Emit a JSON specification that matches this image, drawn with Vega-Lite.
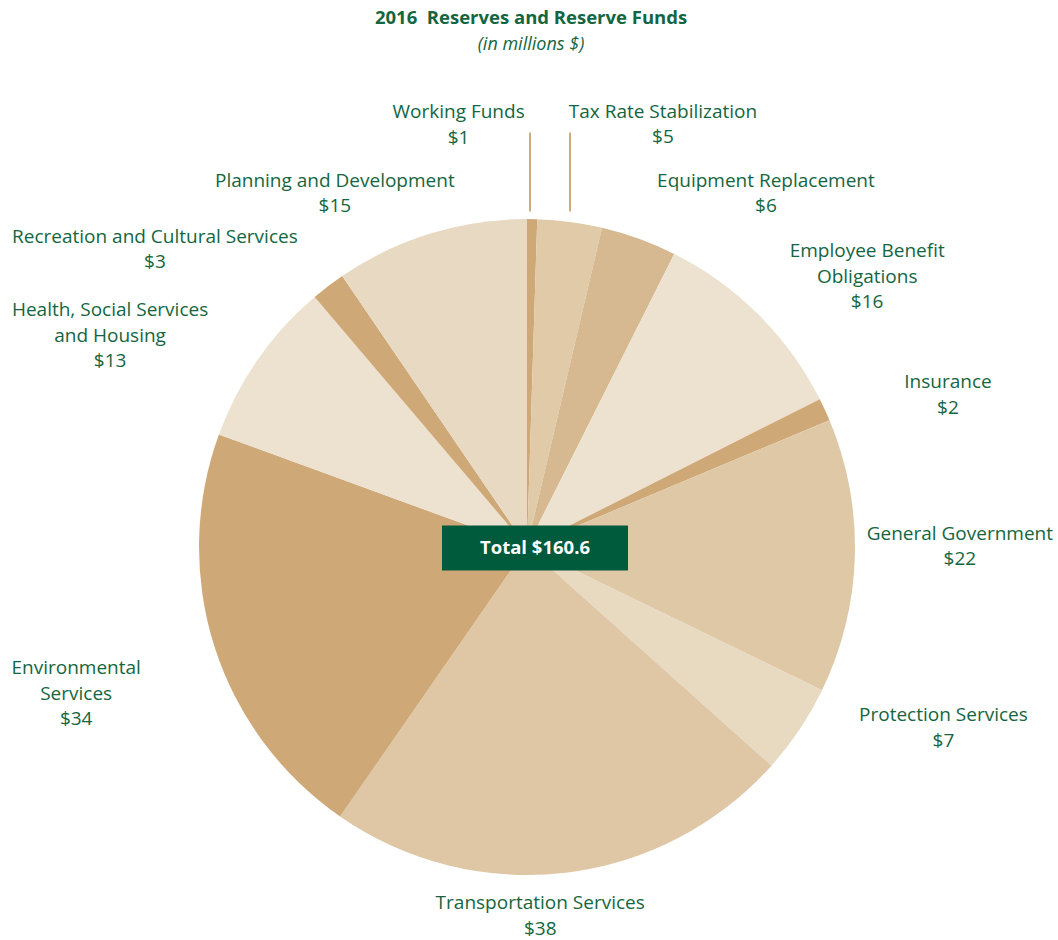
{
  "$schema": "https://vega.github.io/schema/vega-lite/v6.json",
  "width": 1054,
  "height": 786,
  "autosize": {"type": "none"},
  "padding": {"top": 154, "left": 0, "right": 4, "bottom": 0},
  "background": "white",
  "title": {
    "text": "2016\u00a0 Reserves and Reserve Funds",
    "subtitle": "(in millions $)",
    "font": "Open Sans",
    "fontSize": 18.5,
    "fontWeight": "bold",
    "color": "#146640",
    "subtitleFont": "Open Sans",
    "subtitleFontSize": 18,
    "subtitleFontStyle": "italic",
    "subtitleColor": "#146640",
    "subtitlePadding": 8,
    "anchor": "middle",
    "dx": 4,
    "offset": 49
  },
  "config": {"view": {"stroke": null}},
  "data": {
    "values": [
      {"order": 1, "category": "Working Funds", "value": 0.8, "label": "Working Funds\n$1"},
      {"order": 2, "category": "Tax Rate Stabilization", "value": 5.1, "label": "Tax Rate Stabilization\n$5"},
      {"order": 3, "category": "Equipment Replacement", "value": 6.0, "label": "Equipment Replacement\n$6"},
      {"order": 4, "category": "Employee Benefit Obligations", "value": 16.3, "label": "Employee Benefit\nObligations\n$16"},
      {"order": 5, "category": "Insurance", "value": 1.8, "label": "Insurance\n$2"},
      {"order": 6, "category": "General Government", "value": 21.7, "label": "General Government\n$22"},
      {"order": 7, "category": "Protection Services", "value": 7.1, "label": "Protection Services\n$7"},
      {"order": 8, "category": "Transportation Services", "value": 37.0, "label": "Transportation Services\n$38"},
      {"order": 9, "category": "Environmental Services", "value": 33.6, "label": "Environmental\nServices\n$34"},
      {"order": 10, "category": "Health, Social Services and Housing", "value": 13.2, "label": "Health, Social Services\nand Housing\n$13"},
      {"order": 11, "category": "Recreation and Cultural Services", "value": 2.7, "label": "Recreation and Cultural Services\n$3"},
      {"order": 12, "category": "Planning and Development", "value": 15.3, "label": "Planning and Development\n$15"}
    ]
  },
  "transform": [
    {"stack": "value", "groupby": [], "sort": [{"field": "order", "order": "ascending"}], "as": ["v0", "v1"]},
    {"calculate": "(datum.v0 + datum.v1) / 2", "as": "mid"}
  ],
  "layer": [
    {
      "mark": {"type": "arc", "outerRadius": 328, "stroke": null},
      "encoding": {
        "theta": {"field": "v0", "type": "quantitative", "scale": {"domain": [0, 160.6], "range": [0, 6.283185307179586]}},
        "theta2": {"field": "v1"},
        "color": {
          "field": "category",
          "type": "nominal",
          "legend": null,
          "scale": {
            "domain": ["Working Funds", "Tax Rate Stabilization", "Equipment Replacement", "Employee Benefit Obligations", "Insurance", "General Government", "Protection Services", "Transportation Services", "Environmental Services", "Health, Social Services and Housing", "Recreation and Cultural Services", "Planning and Development"],
            "range": ["#cfa877", "#e0caa7", "#d6b990", "#ede1cf", "#cfa877", "#dfc8a6", "#e8d9c1", "#dfc7a6", "#cfa877", "#ede2d0", "#cfa877", "#e8d9c3"]
          }
        }
      }
    },
    {
      "transform": [{"filter": "datum.order == 1"}],
      "mark": {"type": "point", "shape": "M0,-1L0,1", "size": 6241, "filled": false, "stroke": "#d1aa78", "strokeWidth": 2, "opacity": 1, "xOffset": 3, "yOffset": -375},
      "encoding": {}
    },
    {
      "transform": [{"filter": "datum.order == 2"}],
      "mark": {"type": "point", "shape": "M0,-1L0,1", "size": 6241, "filled": false, "stroke": "#d1aa78", "strokeWidth": 2, "opacity": 1, "xOffset": 43, "yOffset": -375},
      "encoding": {}
    },
    {
      "transform": [{"filter": "datum.order == 1"}],
      "mark": {"type": "point", "shape": "M-1,-0.242H1V0.242H-1Z", "size": 34596, "filled": true, "fill": "#005a3c", "stroke": null, "opacity": 1, "xOffset": 8, "yOffset": 1},
      "encoding": {}
    },
    {
      "transform": [{"filter": "datum.order == 1"}],
      "mark": {"type": "text", "text": "Total $160.6", "font": "Open Sans", "fontSize": 18.5, "fontWeight": "bold", "fill": "white", "align": "center", "baseline": "middle", "dx": 8, "dy": 1},
      "encoding": {}
    },
    {
      "transform": [{"filter": "datum.order == 1"}],
      "mark": {"type": "text", "font": "Open Sans", "fontSize": 19, "fill": "#146640", "align": "center", "baseline": "middle", "lineBreak": "\n", "lineHeight": 25.5, "radius": 421, "dx": -75, "dy": -14},
      "encoding": {"theta": {"field": "mid", "type": "quantitative", "scale": {"domain": [0, 160.6], "range": [0, 6.283185307179586]}}, "text": {"field": "label"}}
    },
    {
      "transform": [{"filter": "datum.order == 2"}],
      "mark": {"type": "text", "font": "Open Sans", "fontSize": 19, "fill": "#146640", "align": "center", "baseline": "middle", "lineBreak": "\n", "lineHeight": 25.5, "radius": 436, "dx": 79, "dy": -3},
      "encoding": {"theta": {"field": "mid", "type": "quantitative", "scale": {"domain": [0, 160.6], "range": [0, 6.283185307179586]}}, "text": {"field": "label"}}
    },
    {
      "transform": [{"filter": "datum.order == 3"}],
      "mark": {"type": "text", "font": "Open Sans", "fontSize": 19, "fill": "#146640", "align": "center", "baseline": "middle", "lineBreak": "\n", "lineHeight": 25.5, "radius": 413, "dx": 98, "dy": 22},
      "encoding": {"theta": {"field": "mid", "type": "quantitative", "scale": {"domain": [0, 160.6], "range": [0, 6.283185307179586]}}, "text": {"field": "label"}}
    },
    {
      "transform": [{"filter": "datum.order == 4"}],
      "mark": {"type": "text", "font": "Open Sans", "fontSize": 19, "fill": "#146640", "align": "center", "baseline": "middle", "lineBreak": "\n", "lineHeight": 25.5, "radius": 432, "dx": 35, "dy": 10},
      "encoding": {"theta": {"field": "mid", "type": "quantitative", "scale": {"domain": [0, 160.6], "range": [0, 6.283185307179586]}}, "text": {"field": "label"}}
    },
    {
      "transform": [{"filter": "datum.order == 5"}],
      "mark": {"type": "text", "font": "Open Sans", "fontSize": 19, "fill": "#146640", "align": "center", "baseline": "middle", "lineBreak": "\n", "lineHeight": 25.5, "radius": 446, "dx": 16, "dy": 22},
      "encoding": {"theta": {"field": "mid", "type": "quantitative", "scale": {"domain": [0, 160.6], "range": [0, 6.283185307179586]}}, "text": {"field": "label"}}
    },
    {
      "transform": [{"filter": "datum.order == 6"}],
      "mark": {"type": "text", "font": "Open Sans", "fontSize": 19, "fill": "#146640", "align": "center", "baseline": "middle", "lineBreak": "\n", "lineHeight": 25.5, "radius": 433, "dx": 0, "dy": -25},
      "encoding": {"theta": {"field": "mid", "type": "quantitative", "scale": {"domain": [0, 160.6], "range": [0, 6.283185307179586]}}, "text": {"field": "label"}}
    },
    {
      "transform": [{"filter": "datum.order == 7"}],
      "mark": {"type": "text", "font": "Open Sans", "fontSize": 19, "fill": "#146640", "align": "center", "baseline": "middle", "lineBreak": "\n", "lineHeight": 25.5, "radius": 446, "dx": 46, "dy": -80},
      "encoding": {"theta": {"field": "mid", "type": "quantitative", "scale": {"domain": [0, 160.6], "range": [0, 6.283185307179586]}}, "text": {"field": "label"}}
    },
    {
      "transform": [{"filter": "datum.order == 8"}],
      "mark": {"type": "text", "font": "Open Sans", "fontSize": 19, "fill": "#146640", "align": "center", "baseline": "middle", "lineBreak": "\n", "lineHeight": 25.5, "radius": 369, "dx": -30, "dy": -10},
      "encoding": {"theta": {"field": "mid", "type": "quantitative", "scale": {"domain": [0, 160.6], "range": [0, 6.283185307179586]}}, "text": {"field": "label"}}
    },
    {
      "transform": [{"filter": "datum.order == 9"}],
      "mark": {"type": "text", "font": "Open Sans", "fontSize": 19, "fill": "#146640", "align": "center", "baseline": "middle", "lineBreak": "\n", "lineHeight": 25.5, "radius": 474, "dx": 1, "dy": -22},
      "encoding": {"theta": {"field": "mid", "type": "quantitative", "scale": {"domain": [0, 160.6], "range": [0, 6.283185307179586]}}, "text": {"field": "label"}}
    },
    {
      "transform": [{"filter": "datum.order == 10"}],
      "mark": {"type": "text", "font": "Open Sans", "fontSize": 19, "fill": "#146640", "align": "center", "baseline": "middle", "lineBreak": "\n", "lineHeight": 25.5, "radius": 463, "dx": -37, "dy": 28},
      "encoding": {"theta": {"field": "mid", "type": "quantitative", "scale": {"domain": [0, 160.6], "range": [0, 6.283185307179586]}}, "text": {"field": "label"}}
    },
    {
      "transform": [{"filter": "datum.order == 11"}],
      "mark": {"type": "text", "font": "Open Sans", "fontSize": 19, "fill": "#146640", "align": "center", "baseline": "middle", "lineBreak": "\n", "lineHeight": 25.5, "radius": 462, "dx": -92, "dy": 57},
      "encoding": {"theta": {"field": "mid", "type": "quantitative", "scale": {"domain": [0, 160.6], "range": [0, 6.283185307179586]}}, "text": {"field": "label"}}
    },
    {
      "transform": [{"filter": "datum.order == 12"}],
      "mark": {"type": "text", "font": "Open Sans", "fontSize": 19, "fill": "#146640", "align": "center", "baseline": "middle", "lineBreak": "\n", "lineHeight": 25.5, "radius": 394, "dx": -76, "dy": 10},
      "encoding": {"theta": {"field": "mid", "type": "quantitative", "scale": {"domain": [0, 160.6], "range": [0, 6.283185307179586]}}, "text": {"field": "label"}}
    }
  ]
}
